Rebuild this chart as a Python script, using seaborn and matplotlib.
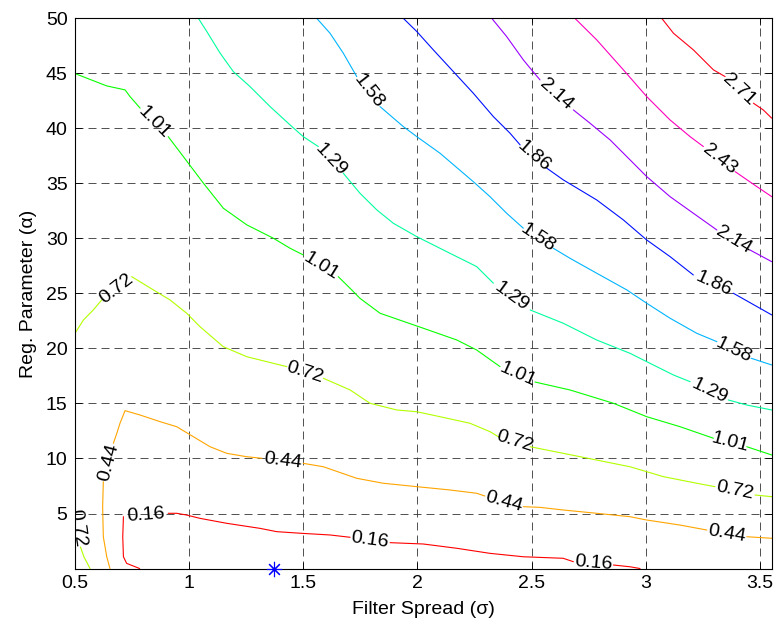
import numpy as np
import pandas as pd
import seaborn as sns
import matplotlib.pyplot as plt

# Contour lines (sigma = filter spread, alpha = reg. parameter)
# gaps: label sits between point i and i+1
sig_016 = [0.785, 0.728, 0.714, 0.711, 0.714, 0.910, 0.947, 0.991, 1.049, 1.166, 1.312, 1.385, 1.494,
           1.618, 1.706, 1.881, 2.026, 2.173, 2.318, 2.464, 2.639, 2.683, 2.858, 2.931, 2.975]
alp_016 = [0.0, 0.47, 1.07, 2.89, 4.71, 5.02, 5.02, 4.86, 4.56, 4.11, 3.65, 3.35, 3.2,
           3.05, 2.84, 2.35, 2.23, 1.84, 1.38, 1.07, 0.93, 0.62, 0.32, 0.16, 0.0]
gaps_016 = [4, 14, 21]

sig_044 = [0.655, 0.641, 0.626, 0.623, 0.626, 0.670, 0.685, 0.699, 0.721, 0.787, 0.874, 0.947, 1.020,
           1.093, 1.166, 1.254, 1.320, 1.501, 1.589, 1.735, 1.851, 1.998, 2.143, 2.260, 2.296, 2.464,
           2.537, 2.639, 2.785, 2.931, 3.004, 3.150, 3.267, 3.442, 3.551]
alp_044 = [0.0, 1.07, 2.89, 5.62, 7.89, 11.38, 12.29, 13.2, 14.35, 13.95, 13.35, 12.89, 11.98,
           11.07, 10.47, 10.16, 10.02, 9.56, 9.25, 8.2, 7.75, 7.44, 7.14, 6.84, 6.59, 5.62,
           5.56, 5.32, 5.02, 4.71, 4.41, 3.95, 3.5, 2.89, 2.75]
gaps_044 = [4, 16, 24, 32]

sig_072a = [0.502, 0.526, 0.541, 0.568]
alp_072a = [5.32, 1.95, 1.07, 0.0]
gaps_072a = [0]

sig_072b = [0.502, 0.539, 0.582, 0.619, 0.750, 0.845, 0.918, 0.991, 1.049, 1.151, 1.254, 1.370, 1.429,
            1.589, 1.706, 1.793, 1.910, 1.998, 2.099, 2.231, 2.318, 2.355, 2.494, 2.639, 2.785,
            2.931, 3.077, 3.223, 3.303, 3.478, 3.551]
alp_072b = [21.38, 22.59, 23.5, 24.41, 26.53, 25.32, 24.41, 23.2, 21.98, 20.16, 19.25, 18.65, 18.35,
            17.29, 16.23, 15.02, 14.41, 14.25, 13.8, 13.2, 12.44, 11.98, 11.07, 10.47, 9.86,
            9.25, 8.35, 7.75, 7.44, 6.68, 6.53]
gaps_072b = [3, 12, 21, 28]

sig_101 = [0.500, 0.641, 0.721, 0.743, 0.787, 0.910, 0.998, 1.064, 1.151, 1.254, 1.370, 1.443, 1.501,
           1.654, 1.713, 1.749, 1.837, 2.026, 2.173, 2.260, 2.362, 2.515, 2.668, 2.858, 3.004,
           3.150, 3.296, 3.442, 3.551]
alp_101 = [45.0, 43.86, 43.5, 42.89, 41.84, 39.25, 36.84, 35.02, 32.75, 31.23, 30.02, 29.11, 28.5,
           26.53, 25.32, 24.56, 23.2, 21.84, 20.77, 19.86, 18.35, 16.95, 16.23, 15.02, 13.8,
           12.89, 11.84, 11.07, 10.32]
gaps_101 = [4, 12, 20, 26]

sig_129 = [1.042, 1.079, 1.137, 1.195, 1.268, 1.356, 1.443, 1.501, 1.567, 1.676, 1.749, 1.823, 1.895,
           1.998, 2.143, 2.260, 2.333, 2.494, 2.639, 2.785, 2.931, 3.004, 3.121, 3.194, 3.361,
           3.442, 3.551]
alp_129 = [50.0, 48.8, 46.84, 45.16, 43.8, 41.98, 40.32, 39.25, 38.35, 35.93, 34.11, 32.59, 31.38,
           30.16, 28.65, 27.44, 25.93, 23.5, 22.29, 20.77, 19.56, 18.8, 17.59, 16.98, 15.32,
           14.86, 14.41]
gaps_129 = [8, 16, 23]

sig_158 = [1.560, 1.618, 1.676, 1.735, 1.837, 1.939, 1.998, 2.099, 2.245, 2.318, 2.391, 2.464, 2.595,
           2.668, 2.785, 2.917, 3.004, 3.106, 3.223, 3.311, 3.461, 3.551]
alp_158 = [50.0, 48.65, 46.84, 44.71, 41.98, 40.16, 39.25, 37.75, 35.16, 33.8, 32.29, 30.93, 29.11,
           28.2, 26.84, 25.32, 24.11, 22.75, 21.38, 20.62, 19.11, 18.5]
gaps_158 = [3, 11, 19]

sig_186 = [1.939, 1.998, 2.070, 2.158, 2.245, 2.333, 2.406, 2.450, 2.567, 2.639, 2.785, 2.902, 3.004,
           3.106, 3.208, 3.383, 3.551]
alp_186 = [50.0, 48.8, 47.14, 45.16, 43.2, 41.07, 39.56, 38.5, 36.38, 35.32, 33.5, 31.68, 29.86,
           28.35, 26.68, 25.02, 23.05]
gaps_186 = [7, 14]

sig_214 = [2.326, 2.391, 2.464, 2.494, 2.537, 2.683, 2.756, 2.844, 2.931, 3.004, 3.106, 3.208, 3.311,
           3.456, 3.551]
alp_214 = [50.0, 48.35, 46.23, 45.47, 44.41, 41.68, 40.47, 38.95, 37.14, 35.62, 33.8, 32.29, 30.77,
           28.95, 27.89]
gaps_214 = [4, 12]

sig_243 = [2.690, 2.785, 2.902, 3.004, 3.106, 3.194, 3.252, 3.391, 3.486, 3.551]
alp_243 = [50.0, 48.05, 45.32, 42.89, 40.77, 39.25, 38.35, 36.07, 34.71, 33.8]
gaps_243 = [6]

sig_271 = [3.070, 3.121, 3.208, 3.296, 3.347, 3.471, 3.514, 3.551]
alp_271 = [50.0, 48.65, 47.14, 45.32, 44.71, 42.29, 41.68, 40.93]
gaps_271 = [4]

levels = [0.16, 0.44, 0.72, 1.01, 1.29, 1.58, 1.86, 2.14, 2.43, 2.71]

contours = [
    (0.16, sig_016, alp_016, gaps_016),
    (0.44, sig_044, alp_044, gaps_044),
    (0.72, sig_072a, alp_072a, gaps_072a),
    (0.72, sig_072b, alp_072b, gaps_072b),
    (1.01, sig_101, alp_101, gaps_101),
    (1.29, sig_129, alp_129, gaps_129),
    (1.58, sig_158, alp_158, gaps_158),
    (1.86, sig_186, alp_186, gaps_186),
    (2.14, sig_214, alp_214, gaps_214),
    (2.43, sig_243, alp_243, gaps_243),
    (2.71, sig_271, alp_271, gaps_271),
]

# optimum marker
best_sigma = [1.375]
best_alpha = [0.0]

x_ticks = [0.5, 1, 1.5, 2, 2.5, 3, 3.5]
x_ticklabels = ['0.5', '1', '1.5', '2', '2.5', '3', '3.5']
y_ticks = [5, 10, 15, 20, 25, 30, 35, 40, 45, 50]

# STYLE
sns.set_theme(style="white")
plt.rcParams['font.family'] = ['Liberation Sans', 'DejaVu Sans']

fig = plt.figure(figsize=(7.78, 6.31), dpi=100)
ax = fig.add_axes([0.0958, 0.0990, 0.8961, 0.8719])
ax.set_xlim(0.5, 3.551)
ax.set_ylim(0, 50)

cmap = plt.get_cmap('hsv')

for level, sig, alp, gaps in contours:
    color = cmap(levels.index(level) / (len(levels) - 1))
    piece = np.searchsorted(gaps, np.arange(len(sig)), side='left')
    df = pd.DataFrame({'sigma': sig, 'alpha': alp, 'piece': piece})
    sns.lineplot(data=df, x='sigma', y='alpha', units='piece', estimator=None,
                 sort=False, color=color, lw=0.8, ax=ax, legend=False)

# inline labels in the gaps
for level, sig, alp, gaps in contours:
    for g in gaps:
        p0 = ax.transData.transform((sig[g], alp[g]))
        p1 = ax.transData.transform((sig[g + 1], alp[g + 1]))
        ang = np.degrees(np.arctan2(p1[1] - p0[1], p1[0] - p0[0]))
        if ang > 90:
            ang -= 180
        elif ang <= -90:
            ang += 180
        ax.text((sig[g] + sig[g + 1]) / 2, (alp[g] + alp[g + 1]) / 2, f"{level:.2f}",
                rotation=ang, rotation_mode='anchor', ha='center', va='center',
                fontsize=14, color='black', clip_on=True)

ax.plot(best_sigma, best_alpha, linestyle='none', marker=(8, 2, 0), color='blue',
        markersize=11, markeredgewidth=0.8, clip_on=False, zorder=5)

ax.grid(True, color='0.2', linestyle=(0, (9.6, 6)), linewidth=0.6)
ax.set_xticks(x_ticks)
ax.set_xticklabels(x_ticklabels)
ax.set_yticks(y_ticks)
ax.tick_params(direction='in', length=5, width=0.6, colors='black', labelsize=14,
               bottom=True, left=True, top=True, right=True, pad=5)
for s in ax.spines.values():
    s.set_color('black')
    s.set_linewidth(0.8)

ax.set_xlabel('Filter Spread (σ)', fontsize=14, color='black', labelpad=6)
ax.set_ylabel('Reg. Parameter (α)', fontsize=14, color='black', labelpad=6)

fig.savefig('out.png', dpi=100, facecolor='white')
